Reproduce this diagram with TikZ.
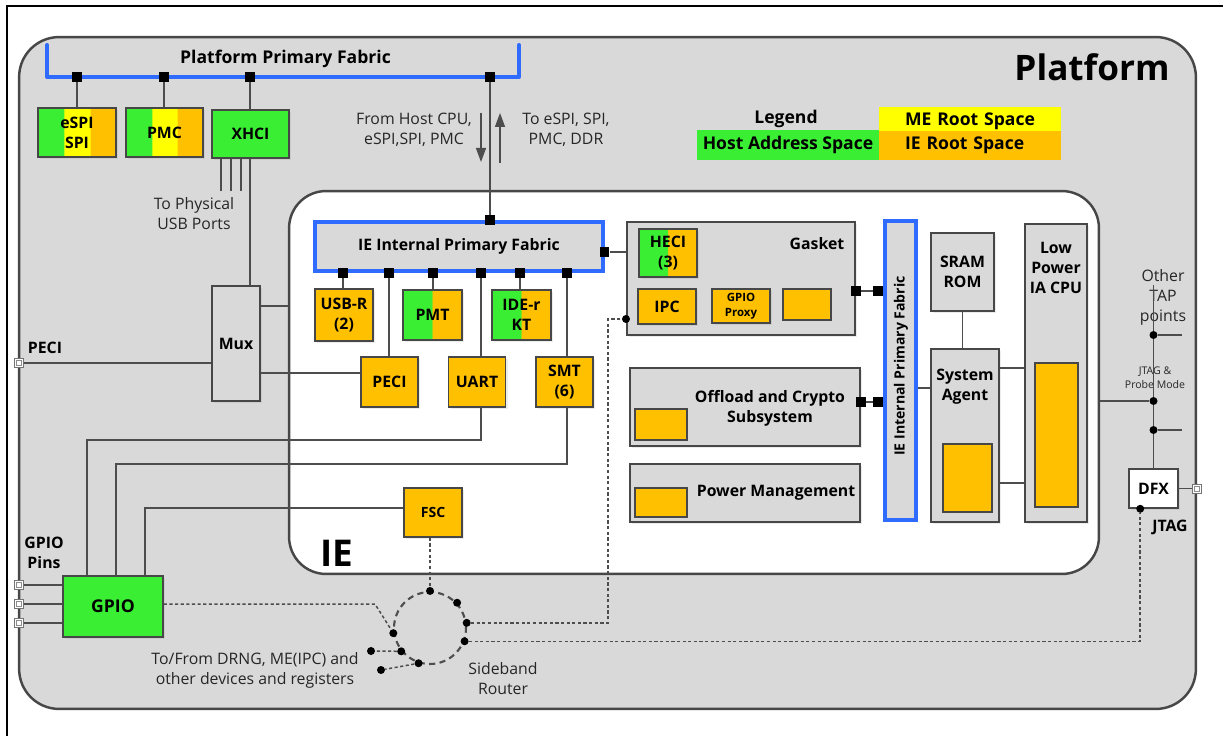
\documentclass[tikz,border=0pt]{standalone}
\usepackage{fontspec}
\setmainfont{Open Sans}
\usepackage{tikz}
\usetikzlibrary{shapes,arrows.meta,positioning,calc,shadows}
\definecolor{hostgreen}{HTML}{3AEE33}
\definecolor{meyellow}{HTML}{FFFF00}
\definecolor{ieorange}{HTML}{FFC000}
\definecolor{platgray}{HTML}{D9D9D9}
\definecolor{fabblue}{HTML}{2F6BFF}
\definecolor{edgegray}{HTML}{474747}
\definecolor{wiregray}{HTML}{4D4D4D}
\pgfdeclarehorizontalshading{hostmeie}{100bp}{color(0bp)=(hostgreen); color(41.66bp)=(hostgreen); color(41.67bp)=(meyellow); color(58.33bp)=(meyellow); color(58.34bp)=(ieorange); color(100bp)=(ieorange)}
\pgfdeclarehorizontalshading{hostie}{100bp}{color(0bp)=(hostgreen); color(49.99bp)=(hostgreen); color(50bp)=(ieorange); color(100bp)=(ieorange)}
\tikzstyle{unit} = [rectangle, draw=edgegray, line width=0.9pt, fill=ieorange, inner sep=1pt,
    align=center, font=\fontsize{9}{11.4}\selectfont\bfseries,
    drop shadow={shadow xshift=1.2pt, shadow yshift=-1.2pt, opacity=0.15}]
\tikzstyle{panel} = [unit, fill=platgray]
\tikzstyle{slot} = [rectangle, draw=edgegray, line width=0.9pt, fill=ieorange]
\tikzstyle{fabric} = [rectangle, draw=fabblue, line width=2pt, fill=platgray]
\tikzstyle{port} = [rectangle, fill=black, minimum size=0.19cm, inner sep=0pt]
\tikzstyle{tapdot} = [circle, fill=black, minimum size=0.16cm, inner sep=0pt]
\tikzstyle{jack} = [rectangle, draw=black!55, fill=white, line width=0.4pt, minimum size=0.18cm, inner sep=0pt,
    path picture={\draw[black!45, line width=0.3pt] (path picture bounding box.center) +(-1.3pt,-1.3pt) rectangle +(1.3pt,1.3pt);}]
\tikzstyle{wire} = [draw=wiregray, line width=0.8pt]
\tikzstyle{sbwire} = [draw=wiregray, line width=0.85pt, dash pattern=on 1.8pt off 1.4pt]
\tikzstyle{flow} = [-{Triangle[length=2.8mm, width=2mm]}, wiregray, line width=0.75pt]
\tikzstyle{note} = [align=center, font=\fontsize{9}{11.4}\selectfont, text=black!85]
\tikzstyle{tag} = [align=center, font=\fontsize{9}{11.4}\selectfont\bfseries]

\begin{document}
\begin{tikzpicture}[x=0.02cm, y=-0.02cm]
\useasboundingbox (0,0) rectangle (1223,736);
\draw[black, line width=1.2pt] (7,736) -- (7,6) -- (1223,6);

% containers
\node[draw=edgegray, line width=1.4pt, fill=platgray, rounded corners=0.8cm,
    minimum width=23.54cm, minimum height=13.44cm] (platform) at (607.5,373) {};
\node[font=\fontsize{20}{24}\selectfont\bfseries] (platlbl) at (1092,67) {Platform};
\node[draw=edgegray, line width=1.4pt, fill=white, rounded corners=0.74cm,
    minimum width=16.2cm, minimum height=7.66cm] (ie) at (694,382.5) {};
\node[font=\fontsize{21}{24}\selectfont\bfseries] (ielbl) at (337,553) {IE};

% platform primary fabric
\draw[fabblue, line width=2.3pt, line cap=round, line join=round] (47,45) -- (47,77) -- (519,77) -- (519,45);
\node[tag, font=\fontsize{10}{12}\selectfont\bfseries] (pflbl) at (285.5,59) {Platform Primary Fabric};
\foreach \xx/\nm in {77/pfa, 164/pfb, 250/pfc, 490/pfd}
    \node[port] (\nm) at (\xx,77) {};

\node[unit, shading=hostmeie, minimum width=1.56cm, minimum height=0.98cm] (espi) at (77,132.5) {eSPI\\SPI};
\node[unit, shading=hostmeie, minimum width=1.54cm, minimum height=0.98cm] (pmc) at (164.5,132.5) {PMC};
\node[unit, fill=hostgreen, minimum width=1.54cm, minimum height=0.96cm] (xhci) at (250.5,134) {XHCI};
\node[panel, minimum width=0.96cm, minimum height=2.3cm] (mux) at (236,343.5) {Mux};
\draw[wire] (pfa) -- (pfa |- espi.north);
\draw[wire] (pfb) -- (pfb |- pmc.north);
\draw[wire] (pfc) -- (pfc |- xhci.north);
\draw[wire] (pfc |- xhci.south) -- (pfc |- mux.north);
\foreach \xx [count=\i] in {221,231,241} {
    \coordinate (usb\i) at (\xx,191);
    \draw[wire] (usb\i |- xhci.south) -- (usb\i);
}
\node[note] (usbnote) at (194,214) {To Physical\\USB Ports};

% legend
\node[tag, font=\fontsize{10}{12}\selectfont\bfseries] (legend) at (786,119) {Legend};
\node[fill=meyellow, minimum height=0.5cm, inner xsep=0.52cm, text width=2.6cm, align=left,
    font=\fontsize{10}{12}\selectfont\bfseries] (melgd) at (970,121.5) {ME Root Space};
\node[fill=ieorange, minimum height=0.46cm, inner xsep=0.52cm, text width=2.6cm, align=left,
    font=\fontsize{10}{12}\selectfont\bfseries] (ielgd) at (970,145.5) {IE Root Space};
\node[fill=hostgreen, minimum width=3.64cm, minimum height=0.48cm, inner xsep=0pt,
    font=\fontsize{10}{12}\selectfont\bfseries] (hostlgd) at (788,145) {Host Address Space};

% IE internal primary fabric
\node[fabric, tag] (iefab) at (459,246.5) [minimum width=5.76cm, minimum height=0.98cm] {IE Internal Primary Fabric};
\node[port] (ieup) at (iefab.north -| pfd) {};
\draw[wire] (pfd) -- (ieup);
\coordinate (hostin) at (481,113);
\coordinate (hostout) at (481,162);
\coordinate (toin) at (500,163);
\coordinate (toout) at (500,113);
\draw[flow] (hostin) -- (hostout);
\draw[flow] (toin) -- (toout);
\node[note] (fromnote) at (414,130) {From Host CPU,\\eSPI,SPI, PMC};
\node[note] (tonote) at (566,130) {To eSPI, SPI,\\PMC, DDR};

\foreach \xx/\nm in {343/pa, 389/pb, 433/pc, 481/pd, 520/pe, 567/pf}
    \node[port] (\nm) at (\xx,0 |- iefab.south) {};
\node[port] (ieside) at (iefab.east |- 0,252) {};

\node[unit, minimum width=1.16cm, minimum height=1.04cm] (usbr) at (344,315) {USB-R\\(2)};
\node[unit, shading=hostie, minimum width=1.18cm, minimum height=1cm] (pmt) at (432.5,315) {PMT};
\node[unit, shading=hostie, minimum width=1.18cm, minimum height=1cm] (ider) at (521.5,315) {IDE-r\\KT};
\node[unit, minimum width=1.14cm, minimum height=1cm] (peci) at (389.5,382) {PECI};
\node[unit, minimum width=1.14cm, minimum height=1cm] (uart) at (477,382) {UART};
\node[unit, minimum width=1.14cm, minimum height=1cm] (smt) at (564.5,382) {SMT\\(6)};
\node[unit, font=\fontsize{8}{10}\selectfont\bfseries, minimum width=1.16cm, minimum height=0.98cm] (fsc) at (433,512.5) {FSC};
\draw[wire] (pa) -- (pa |- usbr.north);
\draw[wire] (pb) -- (pb |- peci.north);
\draw[wire] (pc) -- (pc |- pmt.north);
\draw[wire] (pd) -- (pd |- uart.north);
\draw[wire] (pe) -- (pe |- ider.north);
\draw[wire] (pf) -- (pf |- smt.north);

% mux and GPIO wiring
\node[jack] (pecipin) at (19,363) {};
\node[tag] (pecilbl) at (45,348) {PECI};
\draw[wire] (pecipin) -- (mux.west |- pecipin);
\draw[wire] (mux.east |- 0,306) -- (ie.west |- 0,306);
\draw[wire] (mux.east |- 0,373) -- (peci.west |- 0,373);

\node[unit, fill=hostgreen, font=\fontsize{10}{12}\selectfont\bfseries, minimum width=2cm, minimum height=1.22cm] (gpio) at (113,606.5) {GPIO};
\node[tag] (gpiolbl) at (44,553) {GPIO\\Pins};
\foreach \yy [count=\i] in {585,604,623} {
    \node[jack] (gpin\i) at (19,\yy) {};
    \draw[wire] (gpin\i) -- (gpio.west |- gpin\i);
}
\draw[wire] (pd |- uart.south) |- (87,440) -- (87,0 |- gpio.north);
\draw[wire] (pf |- smt.south) |- (116,464) -- (116,0 |- gpio.north);
\draw[wire] (fsc.west |- 0,508) -| (145,0 |- gpio.north);

% gasket
\node[panel, minimum width=4.57cm, minimum height=2.26cm] (gasket) at (741,278.5) {};
\node[tag] (gasketlbl) at (817,244) {Gasket};
\node[unit, shading=hostie, minimum width=1.17cm, minimum height=0.96cm] (heci) at (668,253) {HECI\\(3)};
\node[unit, minimum width=1.16cm, minimum height=0.7cm] (ipc) at (667,306.5) {IPC};
\node[unit, font=\fontsize{6.5}{8.5}\selectfont\bfseries, minimum width=1.17cm, minimum height=0.68cm] (gproxy) at (741,306) {GPIO\\Proxy};
\node[slot, minimum width=0.97cm, minimum height=0.62cm] (gslot) at (807,304.5) {};
\draw[wire] (ieside) -- (gasket.west |- ieside);

% vertical fabric and CPU side
\node[fabric, minimum width=0.62cm, minimum height=5.98cm] (vfab) at (900.5,370.5) {};
\node[rotate=90, font=\fontsize{8}{10}\selectfont\bfseries] (vfablbl) at (901,366) {IE Internal Primary Fabric};
\node[port] (gaskport) at (gasket.east |- 0,291) {};
\node[port, anchor=east] (vfabporta) at (vfab.west |- 0,291) {};
\draw[wire] (gaskport) -- (vfabporta);

\node[panel, minimum width=4.6cm, minimum height=1.56cm] (offload) at (745,407) {};
\node[tag] (offlbl) at (770,408) {Offload and Crypto\\Subsystem};
\node[slot, minimum width=1.05cm, minimum height=0.62cm] (offslot) at (661,424.5) {};
\node[port] (offport) at (offload.east |- 0,402) {};
\node[port, anchor=east] (vfabportb) at (vfab.west |- 0,402) {};
\draw[wire] (offport) -- (vfabportb);

\node[panel, minimum width=4.6cm, minimum height=1.16cm] (power) at (745,493) {};
\node[tag] (powlbl) at (776,493) {Power Management};
\node[slot, minimum width=1.05cm, minimum height=0.58cm] (powslot) at (661,502.5) {};

\node[panel, minimum width=1.26cm, minimum height=1.56cm] (sram) at (962.5,272) {SRAM\\ROM};
\node[panel, minimum width=1.36cm, minimum height=3.46cm] (agent) at (965,435.5) {};
\node[tag] (agentlbl) at (965,387) {System\\Agent};
\node[slot, minimum width=0.98cm, minimum height=1.36cm] (agentslot) at (967.5,478) {};
\node[panel, minimum width=1.24cm, minimum height=5.96cm] (cpu) at (1056,373) {};
\node[tag] (cpulbl) at (1056,268) {Low\\Power\\IA CPU};
\node[slot, minimum width=0.86cm, minimum height=2.88cm] (cpuslot) at (1056.5,435) {};
\draw[wire] (sram.south) -- (sram.south |- agent.north);
\draw[wire] (vfab.east |- 0,388) -- (agent.west |- 0,388);
\draw[wire] (agent.east |- 0,368) -- (cpu.west |- 0,368);
\draw[wire] (agent.east |- 0,483) -- (cpu.west |- 0,483);

% JTAG chain
\node[panel, fill=white, minimum width=0.98cm, minimum height=0.78cm] (dfx) at (1153.5,488.5) {DFX};
\node[note] (taplbl) at (1163,297) {Other\\TAP\\points};
\node[note, font=\fontsize{6}{8}\selectfont] (probelbl) at (1155,378) {JTAG \&\\Probe Mode};
\node[tag] (jtaglbl) at (1170,527) {JTAG};
\coordinate (taptop) at (1153.5,285);
\draw[wire] (taptop) -- (dfx.north);
\node[tapdot] (tapa) at (1153.5,335) {};
\node[tapdot] (tapb) at (1153.5,401) {};
\node[tapdot] (tapc) at (1153.5,430) {};
\coordinate (stuba) at (1182,335);
\coordinate (stubc) at (1182,430);
\draw[wire] (tapa) -- (stuba);
\draw[wire] (tapc) -- (stubc);
\draw[wire] (ie.east |- tapb) -- (tapb);
\node[jack] (jtagpin) at (1197,488.5) {};
\draw[wire] (dfx.east) -- (jtagpin);
\node[tapdot] (dfxdot) at ($(dfx.south west)+(12,0)$) {};

% sideband router
\node[circle, draw=wiregray, line width=1.2pt, dash pattern=on 3.5pt off 2.5pt, minimum size=1.44cm, inner sep=0pt] (router) at (430,628) {};
\foreach \ang/\nm in {90/rta, 43/rtb, 8/rtc, -21/rtd, -108/rte, -141/rtf, -172/rtg}
    \node[tapdot] (\nm) at (router.\ang) {};
\node[tapdot] (sba) at (371,651) {};
\node[tapdot] (sbb) at (381,670) {};
\node[tapdot] (gdot) at (gasket.west |- 0,319) {};
\coordinate (gpiobend) at (375,604);
\draw[sbwire] (rtf) -- (sba);
\draw[sbwire] (rte) -- (sbb);
\draw[sbwire] (gpio.east |- gpiobend) -- (gpiobend) -- (rtg);
\draw[sbwire] (rta |- fsc.south) -- (rta);
\draw[sbwire] (rtc) -| ($(gdot)+(-18,0)$) -- (gdot);
\draw[sbwire] (rtd) -| (dfxdot);
\node[note] (drngnote) at (255,670) {To/From DRNG, ME(IPC) and\\other devices and registers};
\node[note] (sbnote) at (503,679) {Sideband\\Router};
\end{tikzpicture}
\end{document}
